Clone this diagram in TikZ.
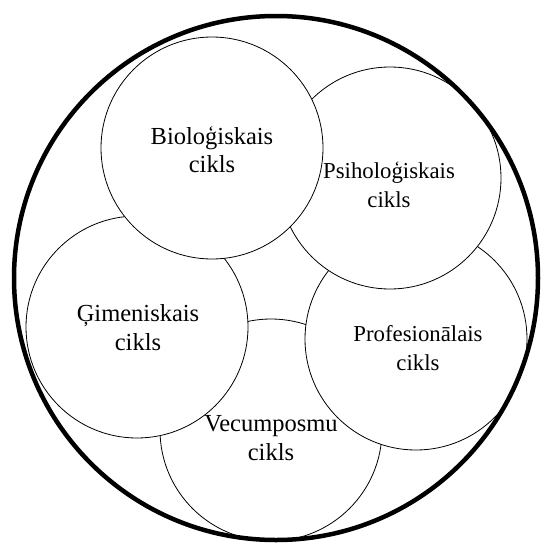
\documentclass[tikz,border=0pt]{standalone}
\usepackage{xcolor}
\usepackage{fontspec}
\setmainfont{Liberation Serif}
\definecolor{cbk}{HTML}{000000}
\tikzset{
    cycle/.style={circle, draw=cbk, fill=white, line width=0.8pt, minimum size=222pt, inner sep=0pt},
    cyclename/.style={align=center, text=cbk, inner sep=0pt, font=\fontsize{24.5}{28.5}\selectfont}
}

\begin{document}
\begin{tikzpicture}[x=1pt, y=-1pt]
    \useasboundingbox (0,0) rectangle (541,544);
    % circles, lowest first
    \node (vec) [cycle] at (271,430) {};
    \node (prof) [cycle] at (416,339) {};
    \node (psi) [cycle] at (390,178) {};
    \node (gim) [cycle] at (137,327) {};
    \node (bio) [cycle] at (212,148) {};
    \node (life) [circle, draw=cbk, line width=4.5pt, minimum size=524pt, inner sep=0pt] at (276,278) {};
    % texts
    \node (tbio) [cyclename] at (212,149.5) {Bioloģiskais\\cikls};
    \node (tpsi) [cyclename, font=\fontsize{22.8}{28.5}\selectfont] at (389,185) {Psiholoģiskais\\cikls};
    \node (tprof) [cyclename, font=\fontsize{22.8}{28.5}\selectfont] at (418,348) {Profesionālais\\cikls};
    \node (tvec) [cyclename] at (271,438) {Vecumposmu\\cikls};
    \node (tgim) [cyclename] at (138,327.5) {Ģimeniskais\\cikls};
\end{tikzpicture}
\end{document}
